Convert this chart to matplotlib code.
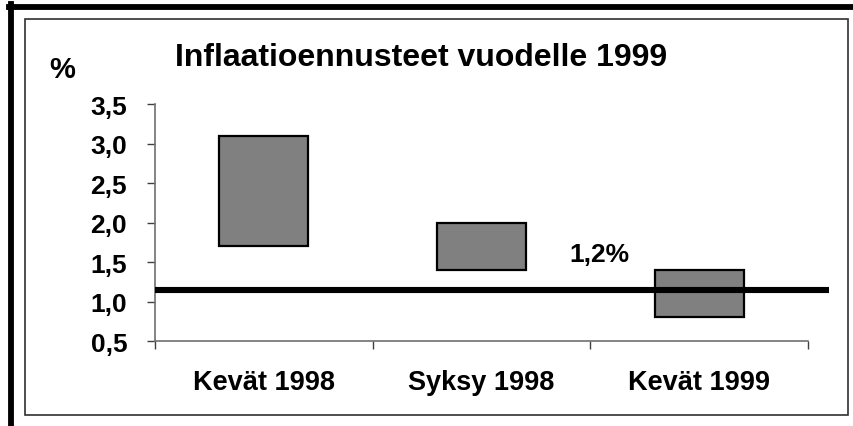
import matplotlib.pyplot as plt
from matplotlib.patches import Rectangle
from matplotlib.lines import Line2D

plt.rcParams['font.family'] = ['Liberation Sans', 'DejaVu Sans']
plt.rcParams['font.weight'] = 'bold'

# Ennusteiden vaihteluvälit (%)
categories = ['Kevät 1998', 'Syksy 1998', 'Kevät 1999']
low = [1.7, 1.4, 0.8]
high = [3.1, 2.0, 1.4]
actual = 1.15
actual_label = '1,2%'
yticks = [0.5, 1.0, 1.5, 2.0, 2.5, 3.0, 3.5]
ytick_labels = ['0,5', '1,0', '1,5', '2,0', '2,5', '3,0', '3,5']

fig = plt.figure(figsize=(8.54, 4.27), dpi=100)
ax = fig.add_axes([0.1815, 0.199, 0.7646, 0.555])

x = range(len(categories))
heights = [h - l for h, l in zip(high, low)]
ax.bar(x, heights, bottom=low, width=0.41, color='#808080',
       edgecolor='black', linewidth=1.6, zorder=2)

# toteutunut inflaatio
ax.plot([-0.5, 2.596], [actual, actual], color='black', linewidth=4.4,
        solid_capstyle='butt', clip_on=False, zorder=3)
ax.text(1.54, 1.6, actual_label, fontsize=19, fontweight='bold',
        ha='center', va='center')

ax.set_xlim(-0.5, 2.5)
ax.set_ylim(0.5, 3.5)
ax.set_yticks(yticks)
ax.set_yticklabels(ytick_labels, fontsize=19, fontweight='bold')
ax.set_xticks([0, 1, 2])
ax.set_xticklabels(categories, fontsize=19.5, fontweight='bold')
ax.set_xticks([-0.5, 0.5, 1.5, 2.5], minor=True)
ax.tick_params(axis='x', which='major', length=0, pad=20)
ax.tick_params(axis='x', which='minor', length=6, color='#404040', width=1)
ax.tick_params(axis='y', length=6, color='#404040', width=1, pad=14)

for side in ['top', 'right']:
    ax.spines[side].set_visible(False)
for side in ['left', 'bottom']:
    ax.spines[side].set_color('#707070')
    ax.spines[side].set_linewidth(1.2)

fig.text(421 / 854, 1 - 58 / 427, 'Inflaatioennusteet vuodelle 1999',
         fontsize=23, fontweight='bold', ha='center', va='center')
fig.text(62 / 854, 1 - 70 / 427, '%', fontsize=21, fontweight='bold',
         ha='center', va='center')

# kehykset
W, H = 854, 427
fig.patches.append(Rectangle((25 / W, 1 - 416 / H), 823 / W, 396 / H,
                             transform=fig.transFigure, fill=False,
                             edgecolor='#303030', linewidth=1.2))
fig.lines.append(Line2D([11.5 / W, 11.5 / W], [0, 1 - 5 / H],
                        transform=fig.transFigure, color='black', linewidth=4.2))
fig.lines.append(Line2D([9 / W, 1], [1 - 7.5 / H, 1 - 7.5 / H],
                        transform=fig.transFigure, color='black', linewidth=4.2))

fig.savefig('out.png', dpi=100)
